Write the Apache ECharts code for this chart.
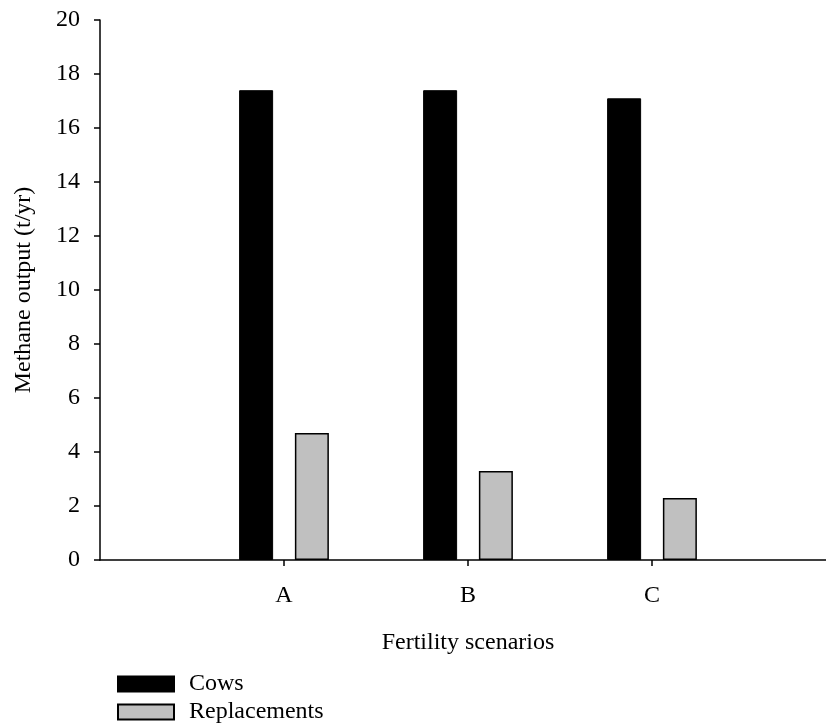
<!DOCTYPE html>
<html>
<head>
<meta charset="utf-8">
<script src="https://cdn.jsdelivr.net/npm/echarts@6/dist/echarts.min.js"></script>
<style>
html,body{margin:0;padding:0;background:#fff;overflow:hidden;}
#chart{width:836px;height:727px;}
</style>
</head>
<body>
<div id="chart"></div>
<script>
const categories = ['A', 'B', 'C'];
const seriesNames = ['Cows', 'Replacements'];
const cows = [17.4, 17.4, 17.1];
const replacements = [4.7, 3.3, 2.3];
const yTicks = [0, 2, 4, 6, 8, 10, 12, 14, 16, 18, 20];

const FONT = '"Liberation Serif", "Times New Roman", serif';
const FS = 24;
const positions = categories.map((c, i) => i + 1);

function legendFor(name, top) {
  return {
    orient: 'vertical',
    left: 117,
    top: top,
    padding: 0,
    itemWidth: 56,
    itemHeight: 15,
    icon: 'rect',
    textStyle: {fontFamily: FONT, fontSize: FS, color: '#000', padding: [0, 0, 0, 10]},
    data: [name]
  };
}

const chart = echarts.init(document.getElementById('chart'), null, {renderer: 'canvas'});
chart.setOption({
  animation: false,
  backgroundColor: '#fff',
  textStyle: {fontFamily: FONT, color: '#000'},
  grid: {left: 100, top: 20, right: 0, bottom: 167, containLabel: false},
  legend: [legendFor(seriesNames[0], 672), legendFor(seriesNames[1], 700)],
  xAxis: {
    type: 'value',
    min: 0,
    max: categories.length + 1,
    interval: 1,
    name: 'Fertility scenarios',
    nameLocation: 'middle',
    nameGap: 71,
    nameTextStyle: {fontFamily: FONT, fontSize: FS, color: '#000'},
    splitLine: {show: false},
    axisLine: {show: true, lineStyle: {color: '#000', width: 1.5}},
    axisTick: {show: true, customValues: positions, length: 6, inside: false, lineStyle: {color: '#000', width: 1.5}},
    axisLabel: {
      customValues: positions,
      margin: 24,
      fontFamily: FONT, fontSize: FS, color: '#000',
      formatter: v => categories[v - 1] || ''
    }
  },
  yAxis: {
    type: 'value',
    min: yTicks[0],
    max: yTicks[yTicks.length - 1],
    interval: 2,
    name: 'Methane output (t/yr)',
    nameLocation: 'middle',
    nameGap: 64,
    nameTextStyle: {fontFamily: FONT, fontSize: FS, color: '#000'},
    splitLine: {show: false},
    axisLine: {show: true, lineStyle: {color: '#000', width: 1.5}},
    axisTick: {show: true, length: 6, inside: false, lineStyle: {color: '#000', width: 1.5}},
    axisLabel: {margin: 20, fontFamily: FONT, fontSize: FS, color: '#000'}
  },
  series: [
    {
      name: seriesNames[0],
      type: 'bar',
      barWidth: 34,
      barGap: '64%',
      itemStyle: {color: '#000', borderColor: '#000', borderWidth: 1},
      data: positions.map((p, i) => [p, cows[i]])
    },
    {
      name: seriesNames[1],
      type: 'bar',
      barWidth: 34,
      barGap: '64%',
      itemStyle: {color: '#c0c0c0', borderColor: '#000', borderWidth: 1.5},
      data: positions.map((p, i) => [p, replacements[i]])
    }
  ]
});
</script>
</body>
</html>
